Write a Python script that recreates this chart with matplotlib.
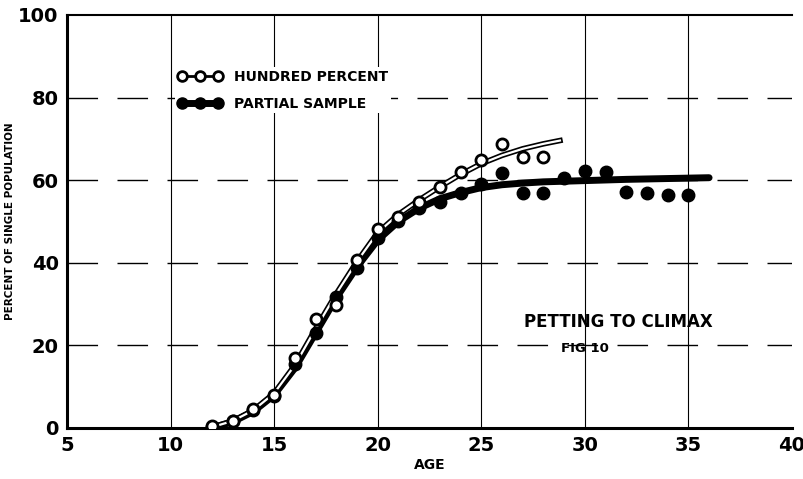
import matplotlib.pyplot as plt
from matplotlib.lines import Line2D

# observed points
age_full = [12, 13, 14, 15, 16, 17, 18, 19, 20, 21, 22, 23, 24, 25, 26, 27, 28]
pct_full = [0.5, 1.8, 4.6, 8.0, 17.0, 26.4, 29.8, 40.7, 48.2, 51.0, 54.7, 58.4, 62.0, 64.9, 68.8, 65.6, 65.6]

age_part = [12, 13, 14, 15, 16, 17, 18, 19, 20, 21, 22, 23, 24, 25,
            26, 27, 28, 29, 30, 31, 32, 33, 34, 35]
pct_part = [0.3, 1.7, 4.4, 7.7, 15.5, 23.0, 31.7, 38.7, 46.0, 50.0, 53.3, 54.7, 57.0, 59.0,
            61.7, 57.0, 57.0, 60.5, 62.2, 62.0, 57.2, 57.0, 56.4, 56.4]

# fitted curves
curve_part_x = [12, 13, 14, 15, 16, 17, 18, 19, 20, 21, 22, 23, 24, 25, 26, 27, 28, 30, 32, 34, 36]
curve_part_y = [0.0, 1.5, 4.0, 8.0, 14.5, 23.0, 31.5, 39.0, 45.5, 50.0, 53.2, 55.5, 57.0, 58.2,
                58.9, 59.3, 59.6, 59.9, 60.2, 60.4, 60.6]
curve_full_x = [12, 13, 14, 15, 16, 17, 18, 19, 20, 21, 22, 23, 24, 25, 26, 27, 28, 28.8]
curve_full_y = [0.2, 1.7, 4.3, 8.4, 15.2, 24.0, 32.5, 40.3, 47.3, 51.7, 55.2, 58.4, 61.4, 64.0,
                66.0, 67.6, 68.8, 69.6]

xticks = [5, 10, 15, 20, 25, 30, 35, 40]
yticks = [0, 20, 40, 60, 80, 100]

fig = plt.figure(figsize=(8.04, 4.79), dpi=100)
ax = fig.add_axes([0.0833, 0.1065, 0.9017, 0.8622])
ax.set_xlim(5, 40)
ax.set_ylim(0, 100)

# grid
for y in [20, 40, 60, 80]:
    ax.axhline(y, color='black', lw=1.0, ls=(0, (22, 14)), zorder=1)
for x in [10, 15, 20, 25, 30, 35]:
    ax.axvline(x, color='black', lw=0.8, zorder=1)

# curves
ax.plot(curve_part_x, curve_part_y, color='black', lw=5, solid_capstyle='round', zorder=3)
ax.plot(curve_full_x, curve_full_y, color='black', lw=4, zorder=3)
ax.plot(curve_full_x, curve_full_y, color='white', lw=1.6, zorder=3)

# points
ax.plot(age_part, pct_part, 'o', color='black', ms=9, zorder=4)
ax.plot(age_full, pct_full, 'o', mfc='white', mec='black', mew=2, ms=8, zorder=5)

ax.spines['right'].set_visible(False)
ax.spines['top'].set_linewidth(1.5)
ax.spines['left'].set_linewidth(2.2)
ax.spines['bottom'].set_linewidth(2.2)

ax.set_xticks(xticks)
ax.set_yticks(yticks)
ax.tick_params(length=0, pad=6, labelsize=14)
for lab in ax.get_xticklabels() + ax.get_yticklabels():
    lab.set_fontweight('bold')
ax.set_xlabel('AGE', fontsize=10, fontweight='bold', labelpad=2)
ax.set_ylabel('PERCENT OF SINGLE POPULATION', fontsize=7.5, fontweight='bold')
ax.yaxis.set_label_coords(-0.072, 0.5)

# legend
h_full = Line2D([], [], color='black', lw=2, marker='o', mfc='white', mec='black', mew=2, ms=7)
h_part = Line2D([], [], color='black', lw=5, marker='o', mfc='black', mec='black', ms=8)
leg = ax.legend([h_full, h_part], ['HUNDRED PERCENT', 'PARTIAL SAMPLE'], loc='upper left',
                bbox_to_anchor=(0.14, 0.89), frameon=True, numpoints=3, handlelength=3.2,
                prop={'weight': 'bold', 'size': 10}, labelspacing=0.9, borderpad=0.2,
                fancybox=False)
leg.get_frame().set_edgecolor('none')
leg.get_frame().set_facecolor('white')
leg.get_frame().set_alpha(1.0)

ax.text(31.6, 24.5, 'PETTING TO CLIMAX', fontsize=12, fontweight='bold', ha='center')
ax.text(30.0, 18.5, 'FIG 10', fontsize=9.5, fontweight='bold', ha='center')

fig.savefig('out.png', dpi=100)
